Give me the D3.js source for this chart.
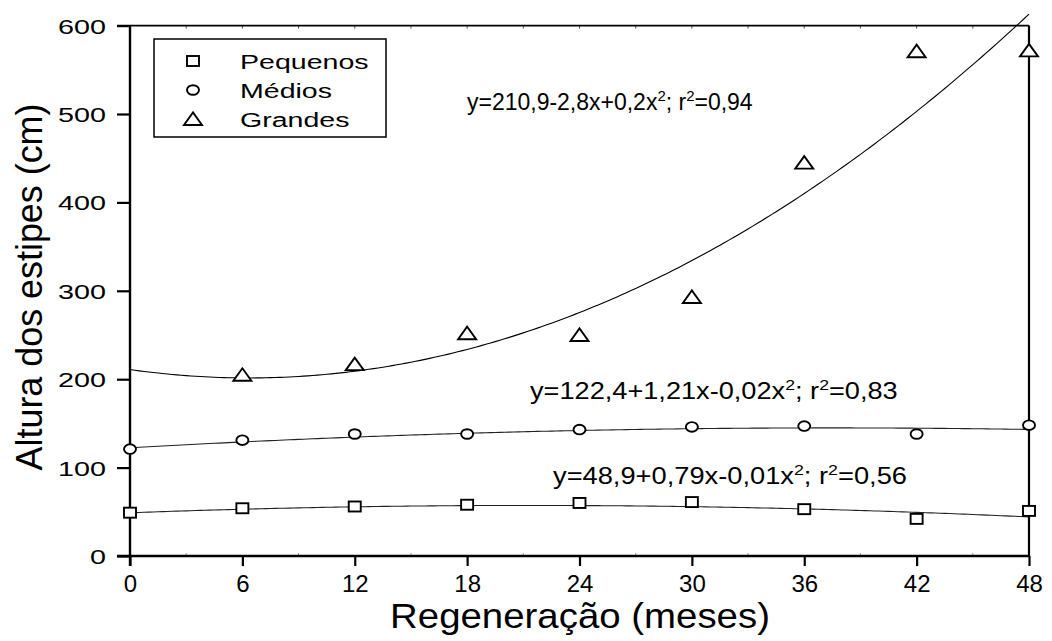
<!DOCTYPE html>
<html>
<head>
<meta charset="utf-8">
<script src="https://cdn.jsdelivr.net/npm/d3@7"></script>
<style>
  html, body { margin: 0; padding: 0; background: #fff; }
  svg { display: block; font-family: "Liberation Sans", Arial, sans-serif; }
</style>
</head>
<body>
<svg id="chart" width="1052" height="641"></svg>
<script>
// ---------------- data ----------------
const months = [0, 6, 12, 18, 24, 30, 36, 42, 48];
const pequenos = [49, 54, 56, 58, 60, 61, 53, 42, 51];
const medios = [121, 131, 138, 138, 143, 146, 147, 138, 148];
const grandes = [null, 205, 217, 252, 250, 293, 445, 571, 572];

// fitted quadratic curves [a, b, c] : y = a + b x + c x^2 (as drawn)
const fitPequenos = [48.9, 0.78, -0.0183];
const fitMedios = [122.4, 1.2, -0.016];
const fitGrandes = [210.9, -3.0, 0.237];

const eqPequenos = ["y=48,9+0,79x-0,01x", "2", "; r", "2", "=0,56"];
const eqMedios = ["y=122,4+1,21x-0,02x", "2", "; r", "2", "=0,83"];
const eqGrandes = ["y=210,9-2,8x+0,2x", "2", "; r", "2", "=0,94"];

const seriesNames = ["Pequenos", "Médios", "Grandes"];
const xTicks = [0, 6, 12, 18, 24, 30, 36, 42, 48];
const yTicks = [0, 100, 200, 300, 400, 500, 600];
const xTitle = "Regeneração (meses)";
const yTitle = "Altura dos estipes (cm)";

// ---------------- layout ----------------
const svg = d3.select("#chart");
const x = d3.scaleLinear().domain([0, 48]).range([130, 1029]);
const y = d3.scaleLinear().domain([0, 600]).range([556, 25.6]);

function fitWidth(textSel, width) {
  const w = textSel.node().getBBox().width;
  return width / w;
}

// minor ticks
svg.append("g").selectAll("line").data(d3.range(3, 48, 6)).join("line")
  .attr("x1", d => x(d)).attr("x2", d => x(d))
  .attr("y1", y(0)).attr("y2", y(0) - 3)
  .attr("stroke", "#999").attr("stroke-width", 1);
svg.append("g").selectAll("line").data(d3.range(3, 48, 3)).join("line")
  .attr("x1", d => x(d)).attr("x2", d => x(d))
  .attr("y1", y(600)).attr("y2", y(600) + 3)
  .attr("stroke", "#555").attr("stroke-width", 1);

// top and right frame
svg.append("line").attr("x1", 117).attr("x2", x(48))
  .attr("y1", y(600)).attr("y2", y(600))
  .attr("stroke", "#000").attr("stroke-width", 1.6);
svg.append("line").attr("x1", x(48)).attr("x2", x(48))
  .attr("y1", y(600)).attr("y2", y(0))
  .attr("stroke", "#000").attr("stroke-width", 2.2);

// y axis
const yAxis = svg.append("g").attr("transform", `translate(${x(0)},0)`)
  .call(d3.axisLeft(y).tickValues(yTicks).tickSize(13).tickPadding(11).tickSizeOuter(0));
yAxis.select(".domain").attr("stroke-width", 2.4).attr("d", `M0,${y(600)}V${y(0) + 10}`);
yAxis.selectAll(".tick line").attr("stroke-width", 2.2);
yAxis.selectAll(".tick text")
  .attr("font-size", 21).attr("font-family", "Liberation Sans, Arial, sans-serif")
  .attr("fill", "#000").attr("dy", "0.36em");
yAxis.selectAll(".tick text").each(function () {
  const t = d3.select(this);
  const tx = +t.attr("x");
  t.attr("x", 0).attr("transform", `translate(${tx},0) scale(1.37,1)`);
});

// x axis
const xAxis = svg.append("g").attr("transform", `translate(0,${y(0)})`)
  .call(d3.axisBottom(x).tickValues(xTicks).tickSize(10).tickPadding(9).tickSizeOuter(0));
xAxis.select(".domain").attr("stroke-width", 2.6).attr("d", `M${x(0) - 13},0H${x(48)}`);
xAxis.selectAll(".tick line").attr("stroke-width", 2.2);
xAxis.selectAll(".tick text")
  .attr("font-size", 24).attr("font-family", "Liberation Sans, Arial, sans-serif")
  .attr("fill", "#000");

// axis titles
const xt = svg.append("text").attr("text-anchor", "middle")
  .attr("font-size", 35).attr("fill", "#000").text(xTitle);
const sxT = fitWidth(xt, 380);
xt.attr("transform", `translate(580,628) scale(${sxT},1)`);

const yt = svg.append("text").attr("text-anchor", "middle")
  .attr("font-size", 37).attr("fill", "#000").text(yTitle);
const syT = fitWidth(yt, 367);
yt.attr("transform", `translate(42,287) rotate(-90) scale(${syT},1)`);

// ---------------- curves ----------------
const xs = d3.range(0, 48.001, 0.25);
const quad = c => v => c[0] + c[1] * v + c[2] * v * v;
const line = d3.line().x(d => x(d[0])).y(d => y(d[1])).curve(d3.curveLinear);
[[fitGrandes, "#000"], [fitMedios, "#222"], [fitPequenos, "#222"]].forEach(([c, col]) => {
  const f = quad(c);
  svg.append("path").datum(xs.map(v => [v, f(v)]))
    .attr("d", line).attr("fill", "none").attr("stroke", col).attr("stroke-width", 1.1);
});

// ---------------- markers ----------------
function drawMarker(g, type, cx, cy) {
  const s = { fill: "#fff", stroke: "#000", sw: 1.9 };
  if (type === 0) {
    g.append("rect").attr("x", cx - 6).attr("y", cy - 5).attr("width", 12).attr("height", 10)
      .attr("fill", s.fill).attr("stroke", s.stroke).attr("stroke-width", s.sw);
  } else if (type === 1) {
    g.append("ellipse").attr("cx", cx).attr("cy", cy).attr("rx", 6).attr("ry", 4.8)
      .attr("fill", s.fill).attr("stroke", s.stroke).attr("stroke-width", s.sw);
  } else {
    g.append("path").attr("d", `M${cx - 9},${cy + 6}L${cx + 9},${cy + 6}L${cx},${cy - 6.5}Z`)
      .attr("fill", s.fill).attr("stroke", s.stroke).attr("stroke-width", s.sw)
      .attr("stroke-linejoin", "miter");
  }
}
const mk = svg.append("g");
[pequenos, medios, grandes].forEach((arr, si) => {
  arr.forEach((v, i) => {
    if (v == null) return;
    drawMarker(mk, si, x(months[i]), y(v));
  });
});

// ---------------- equations ----------------
function equation(parts, x0, baseline, width) {
  const t = svg.append("text").attr("font-size", 23).attr("fill", "#000");
  parts.forEach((p, i) => {
    const sup = i % 2 === 1;
    t.append("tspan").text(p)
      .attr("font-size", sup ? 15 : 23)
      .attr("dy", sup ? -9 : (i === 0 ? 0 : 9));
  });
  const sx = fitWidth(t, width);
  t.attr("transform", `translate(${x0},${baseline}) scale(${sx},1)`);
}
equation(eqGrandes, 467, 110, 286);
equation(eqMedios, 530, 399, 368);
equation(eqPequenos, 553, 484, 354);

// ---------------- legend ----------------
const lg = svg.append("g");
lg.append("rect").attr("x", 154).attr("y", 39).attr("width", 232).attr("height", 98)
  .attr("fill", "#fff").attr("stroke", "#000").attr("stroke-width", 1.5);
const rowsY = [61, 90, 119];
seriesNames.forEach((name, i) => {
  drawMarker(lg, i, 193, rowsY[i]);
  lg.append("text").attr("font-size", 21).attr("fill", "#000")
    .attr("transform", `translate(240,${rowsY[i] + 7.5}) scale(1.36,1)`)
    .text(name);
});
</script>
</body>
</html>
